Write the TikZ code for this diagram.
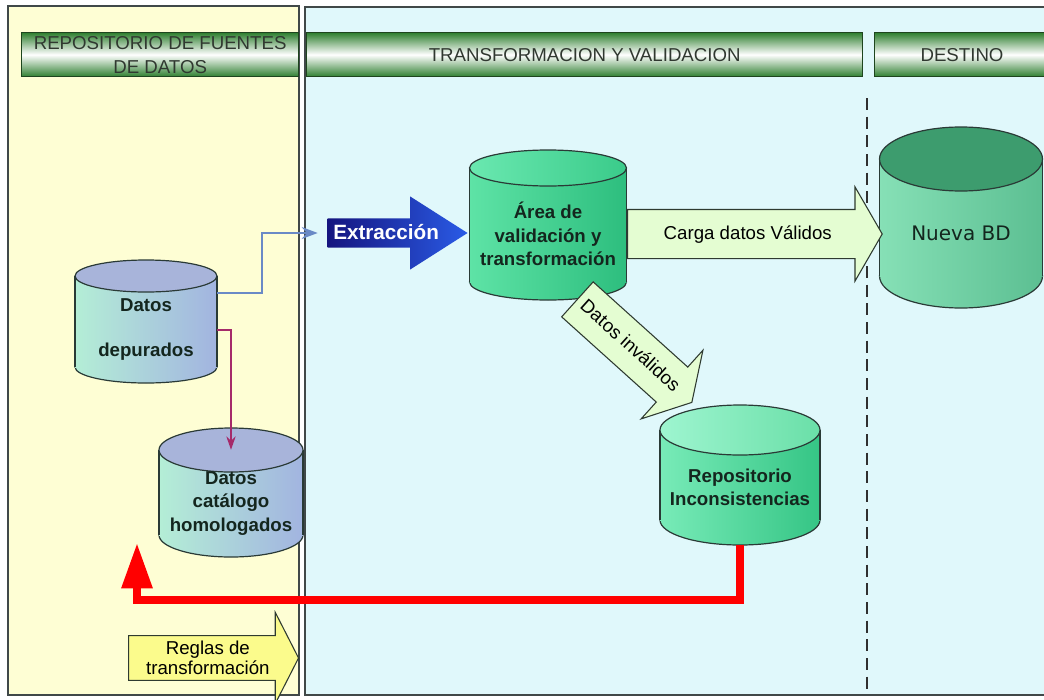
\documentclass[tikz,border=0pt]{standalone}
\usepackage{fontspec}
\setmainfont{Liberation Sans}
\newfontfamily\bdfont{DejaVu Sans}
\usetikzlibrary{arrows.meta,calc,positioning,shapes.arrows}

\definecolor{panelyellow}{HTML}{FEFED4}
\definecolor{panelcyan}{HTML}{E0F8FB}
\definecolor{panelline}{HTML}{404848}
\definecolor{hdrgreen}{HTML}{2F7F30}
\definecolor{hdrdark}{HTML}{1E451E}
\definecolor{hdrtext}{HTML}{303830}
\definecolor{dbedge}{HTML}{2A3A36}
\definecolor{dbtext}{HTML}{14261E}
\definecolor{srcleft}{HTML}{B4EED6}
\definecolor{srcright}{HTML}{A2B4E0}
\definecolor{srctop}{HTML}{A8B4DA}
\definecolor{arealeft}{HTML}{5EE3A6}
\definecolor{arearight}{HTML}{2DBE7E}
\definecolor{areatopl}{HTML}{6AE8B0}
\definecolor{areatopr}{HTML}{3ACB8A}
\definecolor{newleft}{HTML}{86E0B6}
\definecolor{newright}{HTML}{5CBF92}
\definecolor{newtop}{HTML}{3D9C6E}
\definecolor{repoleft}{HTML}{78EBB8}
\definecolor{reporight}{HTML}{35C585}
\definecolor{repotopl}{HTML}{9EF5D0}
\definecolor{repotopr}{HTML}{6ADFA8}
\definecolor{validfill}{HTML}{E4FDD2}
\definecolor{rulefill}{HTML}{FBFB8C}
\definecolor{arrowedge}{HTML}{2E3A30}
\definecolor{extrdark}{HTML}{15157F}
\definecolor{extrlight}{HTML}{2A5BE6}
\definecolor{bluelink}{HTML}{6A8AC6}
\definecolor{purplelink}{HTML}{A52A6A}
\definecolor{redlink}{HTML}{FF0000}
\definecolor{dashline}{HTML}{303030}

% cilindro: [opciones]{nombre}{x centro}{y arriba}{ancho}{alto}{radio tapa}{esquema}{texto}
\newcommand{\dbcyl}[9][]{%
  \pgfmathsetmacro\cylL{#3-#5/2}%
  \pgfmathsetmacro\cylR{#3+#5/2}%
  \pgfmathsetmacro\cylT{#4+#7}%
  \pgfmathsetmacro\cylB{#4+#6-#7}%
  \pgfmathsetmacro\cylrx{0.375*#5}%
  \pgfmathsetmacro\cylry{0.75*#7}%
  \path[#8 body,draw=dbedge,line width=0.9pt] (#3,\cylB) ellipse [x radius=\cylrx pt,y radius=\cylry pt];
  \path[#8 body] (\cylL,\cylT) rectangle (\cylR,\cylB);
  \draw[dbedge,line width=0.9pt] (\cylL,\cylT) -- (\cylL,\cylB) (\cylR,\cylT) -- (\cylR,\cylB);
  \path[#8 top,draw=dbedge,line width=0.9pt] (#3,\cylT) ellipse [x radius=\cylrx pt,y radius=\cylry pt];
  \node[db,minimum width={0.75pt*#5},minimum height={0.75pt*(#6-#7)},#1] (#2) at (#3,{#4+(#6+#7)/2}) {#9};
}

\begin{document}
\begin{tikzpicture}[x=0.75pt,y=-0.75pt,line join=miter,
    header/.style={draw=hdrdark,line width=1pt,top color=hdrgreen,bottom color=hdrgreen,
      middle color=white,anchor=north west,minimum height=33pt,inner sep=0pt,
      text=hdrtext,align=center,font=\fontsize{14}{18}\selectfont},
    db/.style={inner sep=0pt,align=center,text=dbtext,
      font=\bfseries\fontsize{14}{17.5}\selectfont},
    src body/.style={left color=srcleft,right color=srcright},
    src top/.style={fill=srctop},
    area body/.style={left color=arealeft,right color=arearight},
    area top/.style={left color=areatopl,right color=areatopr},
    new body/.style={left color=newleft,right color=newright},
    new top/.style={fill=newtop},
    repo body/.style={left color=repoleft,right color=reporight},
    repo top/.style={left color=repotopl,right color=repotopr},
    blockarrow/.style={single arrow,draw=arrowedge,line width=0.8pt,anchor=tail,
      align=center,font=\fontsize{14}{15}\selectfont,inner xsep=2pt,
      single arrow head extend=17pt,single arrow tip angle=120},
    link/.style={line width=1.2pt}]

  \useasboundingbox (0,0) rectangle (1044,699);
  % paneles
  \draw[panelline,line width=1.1pt,fill=panelyellow] (8,6) rectangle (299,695);
  \draw[panelline,line width=1.1pt,fill=panelcyan] (305,7) rectangle (1050,695);
  \draw[dashline,line width=1pt,dash pattern=on 9pt off 5pt] (867,98) -- (867,695);

  % encabezados
  \node[header,minimum width=207.75pt] (hsrc) at (21,32) {REPOSITORIO DE FUENTES\\DE DATOS};
  \node[header,minimum width=417pt] (htrans) at (306,32) {TRANSFORMACION Y VALIDACION};
  \node[header,minimum width=131pt] (hdest) at (874,32) {DESTINO};

  % bases de datos
  \dbcyl{dep}{146}{260}{142}{123}{16}{src}{Datos\\[16pt]depurados}
  \dbcyl{cat}{231}{428}{144}{129}{22}{src}{Datos\\catálogo\\homologados}
  \dbcyl{area}{548}{150}{157}{150}{18}{area}{Área de\\validación y\\transformación}
  \dbcyl[font=\bdfont\fontsize{15}{18}\selectfont]{nbd}{961}{127}{163}{181}{32}{new}{Nueva BD}
  \dbcyl{repo}{740}{405}{160}{140}{25}{repo}{Repositorio\\Inconsistencias}

  % flechas de bloque
  \node[blockarrow,minimum height=105pt,text height=11pt,text depth=2pt,inner ysep=4pt,
    single arrow head extend=16.5pt,single arrow tip angle=65,draw=none,
    left color=extrdark,right color=extrlight,text=white,
    font=\bfseries\fontsize{15.5}{17}\selectfont] (extr) at (327,233) {Extracción};
  \node[blockarrow,minimum height=191pt,text height=10.5pt,text depth=3pt,inner ysep=11.25pt,
    fill=validfill] (carga) at (627,234) {Carga datos Válidos};
  \node[blockarrow,minimum height=115.5pt,text height=10.5pt,text depth=3pt,inner ysep=10.5pt,
    fill=validfill,rotate=-42] (inval) at (577,299) {Datos inválidos};
  \node[blockarrow,minimum height=127.5pt,inner ysep=3.75pt,single arrow head extend=17.5pt,
    single arrow tip angle=126,fill=rulefill] (reglas) at (128,658) {Reglas de\\transformación};

  % conectores
  \coordinate (redtip) at (137,543);
  \draw[link,bluelink,-{Stealth[length=12pt,width=9pt]}]
    (dep.east |- 0,293) -- ++(45,0) |- ([xshift=-7pt]extr.tail);
  \draw[link,purplelink,-{Stealth[length=10pt,width=7pt]}]
    (dep.east |- 0,330) -| (cat.north);
  \draw[redlink,line width=6pt,-{Triangle[length=34pt,width=22pt]}]
    (repo.south) -- ++(0,55) -| (redtip);
\end{tikzpicture}
\end{document}
